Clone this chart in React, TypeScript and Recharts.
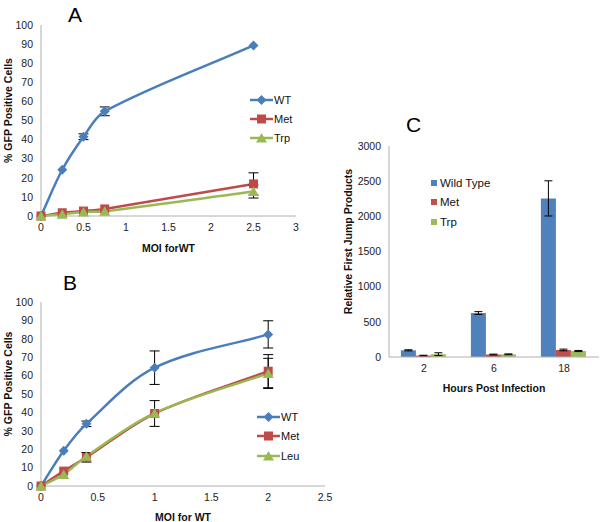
import React from 'react';
import { LineChart, Line, BarChart, Bar, XAxis, YAxis, Legend, ErrorBar } from 'recharts';

// panel A: % GFP positive cells vs MOI
const moiA = [0, 0.25, 0.5, 0.75, 2.5];
const wtA = [0, 24.2, 41.5, 54.8, 89.3];
const wtAErr = [null, null, 1.5, 2.3, null];
const metA = [0, 1.7, 2.6, 3.7, 16.8];
const metAErr = [null, null, null, null, 5.8];
const trpA = [0, 0.9, 2.1, 2.5, 12.8];
const trpAErr = [null, null, null, null, 3.4];
const ticksA = [0, 0.5, 1, 1.5, 2, 2.5, 3];

// panel B
const moiB = [0, 0.2, 0.4, 1, 2];
const wtB = [0, 19.2, 33.8, 64.3, 82.4];
const wtBErr = [null, null, 1.5, 9.1, 7.4];
const metB = [0, 8.1, 15.6, 39.4, 62.4];
const metBErr = [null, null, 2.6, 7, 9];
const leuB = [0, 6.3, 16.2, 39.6, 61.2];
const leuBErr = [null, null, null, null, 8.2];
const ticksB = [0, 0.5, 1, 1.5, 2, 2.5];

// panel C: relative first jump products
const hours = ['2', '6', '18'];
const wildType = [95, 625, 2255];
const wildTypeErr = [8, 20, 250];
const metC = [20, 35, 100];
const metCErr = [5, 6, 12];
const trpC = [40, 38, 85];
const trpCErr = [20, 6, 8];
const ticksY = [0, 10, 20, 30, 40, 50, 60, 70, 80, 90, 100];
const ticksC = [0, 500, 1000, 1500, 2000, 2500, 3000];

const FONT = '"Liberation Sans", Arial, sans-serif';
const BLUE = '#4a7ebb';
const RED = '#be4b48';
const GREEN = '#98b954';
const AXIS = '#b0b0b0';

const tableA = moiA.map((m, i) => ({
  moi: m, WT: wtA[i], wtErr: wtAErr[i], Met: metA[i], metErr: metAErr[i], Trp: trpA[i], trpErr: trpAErr[i],
}));
const tableB = moiB.map((m, i) => ({
  moi: m, WT: wtB[i], wtErr: wtBErr[i], Met: metB[i], metErr: metBErr[i], Leu: leuB[i], leuErr: leuBErr[i],
}));
const tableC = hours.map((h, i) => ({
  hours: h, 'Wild Type': wildType[i], wtErr: wildTypeErr[i], Met: metC[i], metErr: metCErr[i], Trp: trpC[i], trpErr: trpCErr[i],
}));

// excel-ish smoothed line, tangents scaled by segment length so long gaps don't overshoot
const smooth = (context: any) => {
  let pts: number[][] = [];
  const dist = (a: number[], b: number[]) => Math.hypot(b[0] - a[0], b[1] - a[1]) || 1e-6;
  return {
    areaStart() {},
    areaEnd() {},
    lineStart() { pts = []; },
    point(x: number, y: number) { pts.push([+x, +y]); },
    lineEnd() {
      const n = pts.length;
      if (!n) return;
      context.moveTo(pts[0][0], pts[0][1]);
      for (let i = 0; i < n - 1; i++) {
        const p0 = pts[i > 0 ? i - 1 : i];
        const p1 = pts[i];
        const p2 = pts[i + 1];
        const p3 = pts[i + 2 < n ? i + 2 : i + 1];
        const d12 = dist(p1, p2);
        const k1 = d12 / 3 / (dist(p0, p1) * (i > 0 ? 1 : 0) + d12);
        const k2 = d12 / 3 / (d12 + (i + 2 < n ? dist(p2, p3) : 0));
        context.bezierCurveTo(
          p1[0] + (p2[0] - p0[0]) * k1, p1[1] + (p2[1] - p0[1]) * k1,
          p2[0] - (p3[0] - p1[0]) * k2, p2[1] - (p3[1] - p1[1]) * k2,
          p2[0], p2[1],
        );
      }
    },
  };
};

const diamond = (cx: number, cy: number, color: string, key?: any) => (
  <path key={key} d={`M${cx},${cy - 5}L${cx + 5},${cy}L${cx},${cy + 5}L${cx - 5},${cy}Z`} fill={color} />
);
const square = (cx: number, cy: number, color: string, key?: any) => (
  <rect key={key} x={cx - 4.5} y={cy - 4.5} width={9} height={9} fill={color} />
);
const triangle = (cx: number, cy: number, color: string, key?: any) => (
  <path key={key} d={`M${cx},${cy - 5}L${cx + 5.5},${cy + 4.5}L${cx - 5.5},${cy + 4.5}Z`} fill={color} />
);

const dotOf = (shape: typeof diamond, color: string) => (p: any) =>
  p.cx == null ? null : shape(p.cx, p.cy, color, p.index);

const tickStyle = { fontSize: 10.5, fill: '#222', fontFamily: FONT };
const titleStyle = { fontSize: 10.5, fontWeight: 'bold' as const, fill: '#111', fontFamily: FONT };

const yTitle = (text: string, x: number) => (props: any) => {
  const vb = props.viewBox || {};
  const cy = (vb.y || 0) + (vb.height || 0) / 2 - 10;
  return (
    <text x={x} y={cy} transform={`rotate(-90 ${x} ${cy})`} textAnchor="middle" dominantBaseline="central" style={titleStyle}>
      {text}
    </text>
  );
};

type Item = { name: string; color: string; shape: typeof diamond };

const LineLegend = ({ items, gap }: { items: Item[]; gap: number }) => (
  <div style={{ fontFamily: FONT, fontSize: 11, color: '#111' }}>
    {items.map(it => (
      <div key={it.name} style={{ display: 'flex', alignItems: 'center', height: gap }}>
        <svg width={23} height={12} style={{ display: 'block' }}>
          <line x1={0} y1={6} x2={23} y2={6} stroke={it.color} strokeWidth={2.5} />
          {it.shape(11.5, 6, it.color)}
        </svg>
        <span style={{ marginLeft: 1 }}>{it.name}</span>
      </div>
    ))}
  </div>
);

const BarLegend = ({ items }: { items: { name: string; color: string }[] }) => (
  <div style={{ fontFamily: FONT, fontSize: 11.5, color: '#111' }}>
    {items.map(it => (
      <div key={it.name} style={{ display: 'flex', alignItems: 'center', height: 19.5 }}>
        <div style={{ width: 6, height: 6, background: it.color, marginRight: 3 }} />
        <span>{it.name}</span>
      </div>
    ))}
  </div>
);

const letter = (ch: string, left: number, top: number) => (
  <div style={{ position: 'absolute', left, top, fontFamily: FONT, fontSize: 21, lineHeight: '21px', color: '#000' }}>{ch}</div>
);

export default function App() {
  return (
    <div style={{ position: 'absolute', left: 0, top: 0, width: 600, height: 522, background: '#fff', overflow: 'hidden' }}>
      {letter('A', 68, 4)}
      {letter('B', 63, 272)}
      {letter('C', 406, 114)}

      <div style={{ position: 'absolute', left: 0, top: 0 }}>
        <LineChart width={310} height={260} data={tableA} margin={{ top: 25, right: 14, left: 0, bottom: 8 }}>
          <XAxis dataKey="moi" type="number" domain={[0, 3]} ticks={ticksA} tickLine={false} stroke={AXIS}
            tick={tickStyle} height={36}
            label={{ value: 'MOI forWT', position: 'insideBottom', offset: 0, style: titleStyle }} />
          <YAxis type="number" domain={[0, 100]} ticks={ticksY} tickLine={false} stroke={AXIS} tick={tickStyle}
            width={41} label={yTitle('% GFP Positive Cells', 8)} />
          <Legend layout="vertical" align="center" verticalAlign="middle" wrapperStyle={{ left: 250, top: 90 }}
            content={() => <LineLegend gap={19} items={[
              { name: 'WT', color: BLUE, shape: diamond },
              { name: 'Met', color: RED, shape: square },
              { name: 'Trp', color: GREEN, shape: triangle },
            ]} />} />
          <Line dataKey="WT" type={smooth} stroke={BLUE} strokeWidth={2.5} dot={dotOf(diamond, BLUE)} activeDot={false} isAnimationActive={false}>
            <ErrorBar dataKey="wtErr" width={5} stroke="#000" strokeWidth={1} direction="y" />
          </Line>
          <Line dataKey="Met" type={smooth} stroke={RED} strokeWidth={2.5} dot={dotOf(square, RED)} activeDot={false} isAnimationActive={false}>
            <ErrorBar dataKey="metErr" width={5} stroke="#000" strokeWidth={1} direction="y" />
          </Line>
          <Line dataKey="Trp" type={smooth} stroke={GREEN} strokeWidth={2.5} dot={dotOf(triangle, GREEN)} activeDot={false} isAnimationActive={false}>
            <ErrorBar dataKey="trpErr" width={5} stroke="#000" strokeWidth={1} direction="y" />
          </Line>
        </LineChart>
      </div>

      <div style={{ position: 'absolute', left: 0, top: 262, width: 335, height: 260, overflow: 'hidden' }}>
        <LineChart width={335} height={260} data={tableB} margin={{ top: 40, right: 10, left: 0, bottom: 1 }}>
          <XAxis dataKey="moi" type="number" domain={[0, 2.5]} ticks={ticksB} tickLine={false} stroke={AXIS}
            tick={tickStyle} height={35}
            label={{ value: 'MOI for WT', position: 'insideBottom', offset: 0, style: titleStyle }} />
          <YAxis type="number" domain={[0, 100]} ticks={ticksY} tickLine={false} stroke={AXIS} tick={tickStyle}
            width={41} label={yTitle('% GFP Positive Cells', 8)} />
          <Legend layout="vertical" align="center" verticalAlign="middle" wrapperStyle={{ left: 257, top: 145 }}
            content={() => <LineLegend gap={19.5} items={[
              { name: 'WT', color: BLUE, shape: diamond },
              { name: 'Met', color: RED, shape: square },
              { name: 'Leu', color: GREEN, shape: triangle },
            ]} />} />
          <Line dataKey="WT" type={smooth} stroke={BLUE} strokeWidth={2.5} dot={dotOf(diamond, BLUE)} activeDot={false} isAnimationActive={false}>
            <ErrorBar dataKey="wtErr" width={5} stroke="#000" strokeWidth={1} direction="y" />
          </Line>
          <Line dataKey="Met" type={smooth} stroke={RED} strokeWidth={2.5} dot={dotOf(square, RED)} activeDot={false} isAnimationActive={false}>
            <ErrorBar dataKey="metErr" width={5} stroke="#000" strokeWidth={1} direction="y" />
          </Line>
          <Line dataKey="Leu" type={smooth} stroke={GREEN} strokeWidth={2.5} dot={dotOf(triangle, GREEN)} activeDot={false} isAnimationActive={false}>
            <ErrorBar dataKey="leuErr" width={5} stroke="#000" strokeWidth={1} direction="y" />
          </Line>
        </LineChart>
      </div>

      <div style={{ position: 'absolute', left: 330, top: 110 }}>
        <BarChart width={270} height={300} data={tableC} margin={{ top: 36, right: 1, left: 0, bottom: 18 }}
          barCategoryGap="17%" barGap={0}>
          <XAxis dataKey="hours" tickLine={false} stroke={AXIS} tick={tickStyle} height={35}
            label={{ value: 'Hours Post Infection', position: 'insideBottom', offset: 0, style: titleStyle }} />
          <YAxis type="number" domain={[0, 3000]} ticks={ticksC} tickLine={false} stroke={AXIS} tick={tickStyle}
            width={59} label={yTitle('Relative First Jump Products', 18)} />
          <Legend layout="vertical" align="center" verticalAlign="middle" wrapperStyle={{ left: 101, top: 63 }}
            content={() => <BarLegend items={[
              { name: 'Wild Type', color: '#4f81bd' },
              { name: 'Met', color: '#c0504d' },
              { name: 'Trp', color: '#9bbb59' },
            ]} />} />
          <Bar dataKey="Wild Type" fill="#4f81bd" isAnimationActive={false}>
            <ErrorBar dataKey="wtErr" width={4} stroke="#000" strokeWidth={1} direction="y" />
          </Bar>
          <Bar dataKey="Met" fill="#c0504d" isAnimationActive={false}>
            <ErrorBar dataKey="metErr" width={4} stroke="#000" strokeWidth={1} direction="y" />
          </Bar>
          <Bar dataKey="Trp" fill="#9bbb59" isAnimationActive={false}>
            <ErrorBar dataKey="trpErr" width={4} stroke="#000" strokeWidth={1} direction="y" />
          </Bar>
        </BarChart>
      </div>
    </div>
  );
}
